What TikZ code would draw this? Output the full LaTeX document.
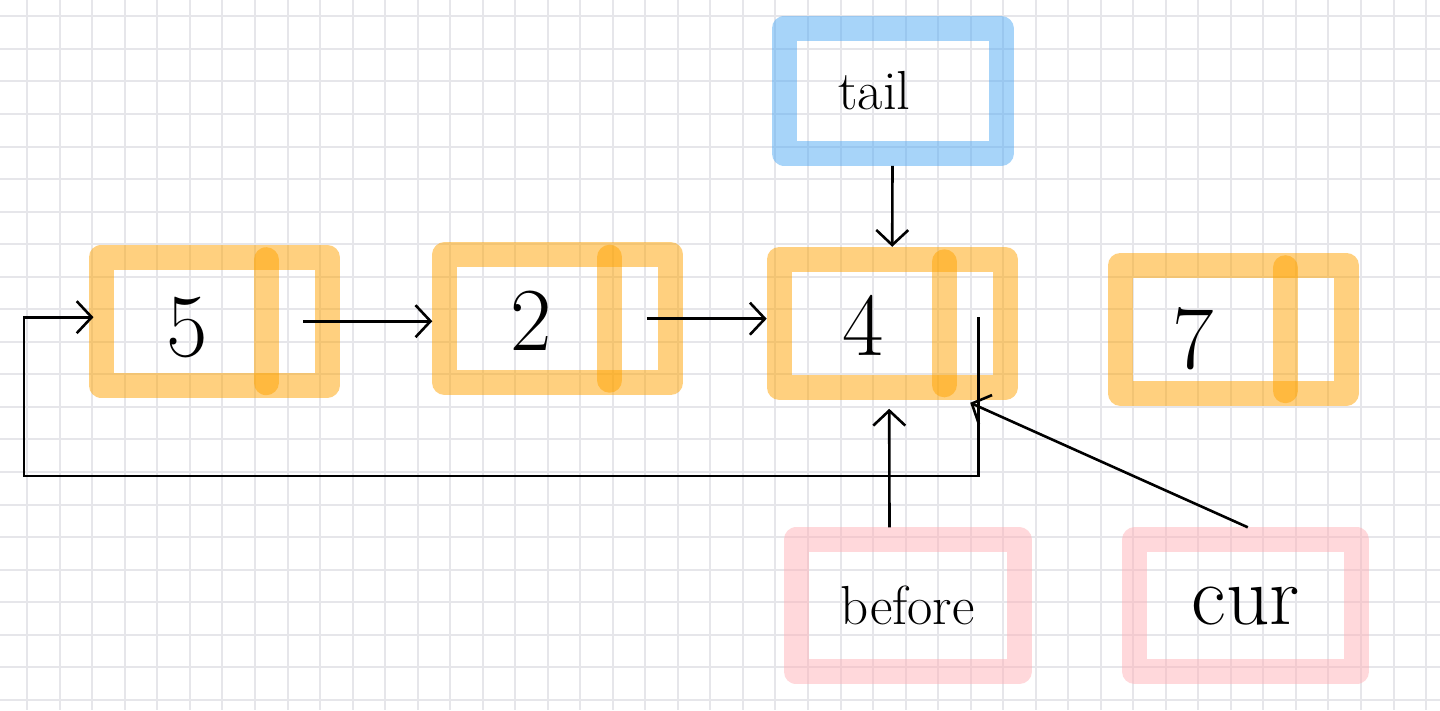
\documentclass[tikz,border=0pt]{standalone}
\usepackage{tikz}
\usetikzlibrary{arrows.meta}

\definecolor{listorange}{RGB}{255,163,0}
\definecolor{tailblue}{RGB}{80,170,245}
\definecolor{ptrpink}{RGB}{255,178,184}
\definecolor{gridgray}{RGB}{230,230,234}

\begin{document}
\begin{tikzpicture}[x=1pt, y=-1pt]
    \tikzstyle{listnode}=[rectangle, minimum width=226pt, minimum height=128pt,
				% The border:
      				 draw=listorange, draw opacity=0.5,
     				 line width=25pt, line join=round
					]
    \tikzstyle{ptrnode}=[rectangle, line width=25pt, line join=round,
				draw opacity=0.5, font=\fontsize{55}{55}\selectfont]
    \tikzstyle{nextbar}=[draw=listorange, draw opacity=0.5, line width=25pt, line cap=round]
    \tikzstyle{digit}=[font=\fontsize{90}{90}\selectfont]
    \tikzstyle{link}=[draw=black, line width=2.6pt, -{Straight Barb[length=15pt,width=32pt]}]

    \useasboundingbox[fill=white] (0,0) rectangle (1440,710);
    % grid paper
    \foreach \i in {0,...,43}
        \draw[gridgray, line width=1.3pt] ({round(27.3+32.53*\i)},0) -- ({round(27.3+32.53*\i)},710);
    \foreach \j in {0,...,21}
        \draw[gridgray, line width=1.3pt] (0,{round(16.3+32.55*\j)}) -- (1440,{round(16.3+32.55*\j)});

    % the list
    \node[listnode, label={[digit, xshift=-27pt, yshift=-6pt]center:5}] (b5) at (214,321.2) {};
    \node[listnode, label={[digit, xshift=-27pt, yshift=-2pt]center:2}] (b2) at (557.8,318.7) {};
    \node[listnode, label={[digit, xshift=-29pt, yshift=-2pt]center:4}] (b4) at (892.2,323.3) {};
    \node[listnode, label={[digit, xshift=-40pt, yshift=-10pt]center:7}] (b7) at (1233.2,329.2) {};
    \foreach \b in {b5,b2,b4,b7}
        \draw[nextbar] ([xshift=52pt,yshift=-15pt]\b.north) -- ([xshift=52pt,yshift=15pt]\b.south);

    % pointers
    \node[ptrnode, draw=tailblue, minimum width=217pt, minimum height=125pt,
          label={[font=\fontsize{55}{55}\selectfont, xshift=-18pt]center:tail}] (tail) at (892.5,90.9) {};
    \node[ptrnode, draw=ptrpink, minimum width=223pt, minimum height=132pt] (before) at (907.5,605.8) {before};
    \node[ptrnode, draw=ptrpink, minimum width=222pt, minimum height=132pt,
          font=\fontsize{85}{85}\selectfont] (cur) at (1245.8,605.8) {cur};

    \coordinate (corner) at (24,476);

    \draw[link] ([xshift=89pt]b5.center) -- (b2.west |- b5.center);
    \draw[link] ([xshift=89pt]b2.center) -- (b4.west |- b2.center);
    \draw[link] ([xshift=86pt,yshift=6pt]b4.center) |- (corner) |- ([xshift=5pt,yshift=4pt]b5.west);
    \draw[link] (tail.south) -- (b4.north);
    \draw[link] ([xshift=-18pt]before.north) -- ([xshift=-3pt,yshift=-9pt]b4.south);
    \draw[link] ([xshift=2pt]cur.north) -- ([xshift=78pt,yshift=-3pt]b4.south);
\end{tikzpicture}
\end{document}
